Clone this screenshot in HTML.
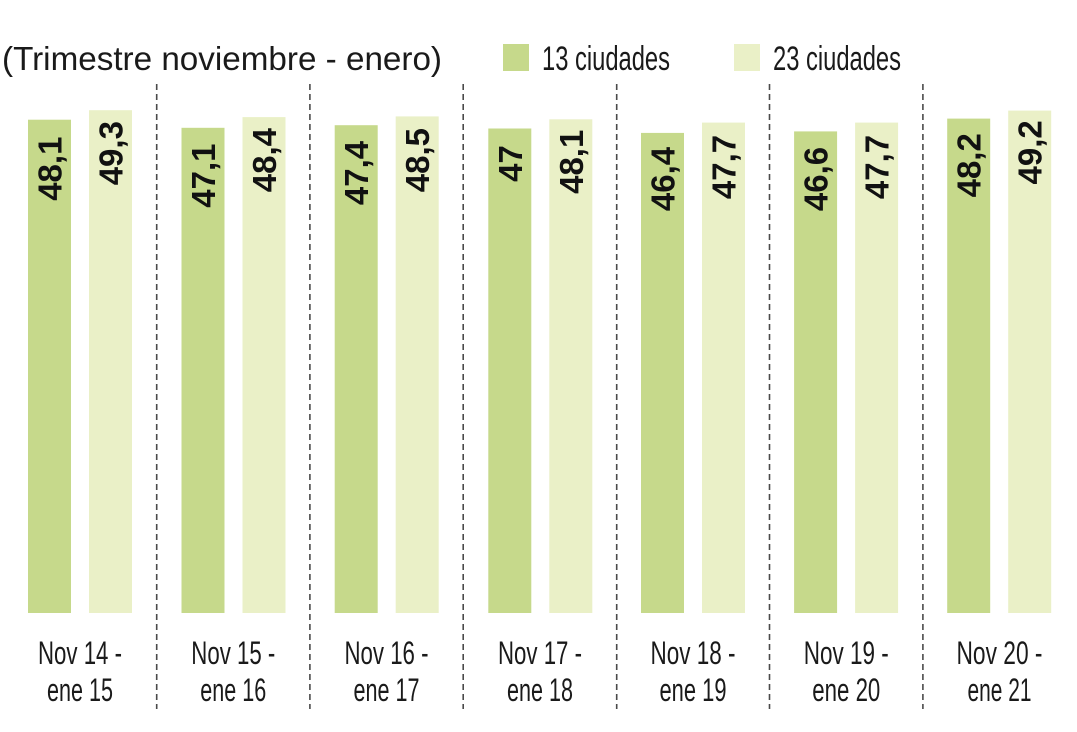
<!DOCTYPE html>
<html>
<head>
<meta charset="utf-8">
<style>
  html, body { margin:0; padding:0; background:#ffffff; }
  svg { display:block; }
  .val { font-family:"Liberation Sans", sans-serif; font-weight:bold; font-size:33px; fill:#111; }
  .ax { font-family:"Liberation Sans", sans-serif; font-size:32px; fill:#1a1a1a; }
  .lg { font-family:"Liberation Sans", sans-serif; font-size:34px; fill:#1a1a1a; }
  .tt { font-family:"Liberation Sans", sans-serif; font-size:33px; fill:#1a1a1a; }
</style>
</head>
<body>
<svg width="1077" height="732" viewBox="0 0 1077 732" xmlns="http://www.w3.org/2000/svg">
  <rect width="1077" height="732" fill="#ffffff"/>

  <!-- Title -->
  <text class="tt" x="2" y="70" textLength="440" lengthAdjust="spacingAndGlyphs">(Trimestre noviembre - enero)</text>

  <!-- Legend -->
  <rect x="503" y="44" width="26" height="27" fill="#c6d98b"/>
  <text class="lg" x="542" y="70" textLength="128" lengthAdjust="spacingAndGlyphs">13 ciudades</text>
  <rect x="734" y="44" width="26" height="27" fill="#eaf0c7"/>
  <text class="lg" x="773" y="70" textLength="128" lengthAdjust="spacingAndGlyphs">23 ciudades</text>

  <!-- Dashed separators -->
  <g stroke="#4a4a4a" stroke-width="1.6" stroke-dasharray="6 4">
    <line x1="156.7" y1="84" x2="156.7" y2="709"/>
    <line x1="309.9" y1="84" x2="309.9" y2="709"/>
    <line x1="463.2" y1="84" x2="463.2" y2="709"/>
    <line x1="616.7" y1="84" x2="616.7" y2="709"/>
    <line x1="769.5" y1="84" x2="769.5" y2="709"/>
    <line x1="922.9" y1="84" x2="922.9" y2="709"/>
  </g>

  <!-- Bars: 13 ciudades (dark) -->
  <g fill="#c6d98b">
    <rect x="28" y="119.7" width="43" height="493.3"/>
    <rect x="181.5" y="127.8" width="43" height="485.2"/>
    <rect x="334.7" y="125.2" width="43" height="487.8"/>
    <rect x="488.3" y="128.5" width="43" height="484.5"/>
    <rect x="641" y="132.9" width="43" height="480.1"/>
    <rect x="794.1" y="131.4" width="43" height="481.6"/>
    <rect x="947.2" y="118.6" width="43" height="494.4"/>
  </g>
  <!-- Bars: 23 ciudades (light) -->
  <g fill="#eaf0c7">
    <rect x="89" y="110.2" width="43" height="502.8"/>
    <rect x="242.5" y="117.1" width="43" height="495.9"/>
    <rect x="395.7" y="116.4" width="43" height="496.6"/>
    <rect x="549.3" y="119.3" width="43" height="493.7"/>
    <rect x="702" y="122.6" width="43" height="490.4"/>
    <rect x="855.1" y="122.6" width="43" height="490.4"/>
    <rect x="1008.2" y="110.6" width="43" height="502.4"/>
  </g>

  <!-- Value labels (rotated) -->
  <g class="val" text-anchor="middle">
    <text transform="translate(61.5,168.7) rotate(-90)">48,1</text>
    <text transform="translate(122.5,153.2) rotate(-90)">49,3</text>
    <text transform="translate(215,175.6) rotate(-90)">47,1</text>
    <text transform="translate(276,160.1) rotate(-90)">48,4</text>
    <text transform="translate(368.2,173) rotate(-90)">47,4</text>
    <text transform="translate(429.2,160.1) rotate(-90)">48,5</text>
    <text transform="translate(521.8,163.5) rotate(-90)">47</text>
    <text transform="translate(582.8,161.8) rotate(-90)">48,1</text>
    <text transform="translate(674.5,179) rotate(-90)">46,4</text>
    <text transform="translate(735.5,167) rotate(-90)">47,7</text>
    <text transform="translate(827.6,179) rotate(-90)">46,6</text>
    <text transform="translate(888.6,167) rotate(-90)">47,7</text>
    <text transform="translate(980.7,165.3) rotate(-90)">48,2</text>
    <text transform="translate(1041.7,152.4) rotate(-90)">49,2</text>
  </g>

  <!-- Category labels -->
  <g class="ax" text-anchor="middle">
    <text x="80" y="664" textLength="84" lengthAdjust="spacingAndGlyphs">Nov 14 -</text>
    <text x="80" y="701" textLength="66" lengthAdjust="spacingAndGlyphs">ene 15</text>
    <text x="233.3" y="664" textLength="84" lengthAdjust="spacingAndGlyphs">Nov 15 -</text>
    <text x="233.3" y="701" textLength="66" lengthAdjust="spacingAndGlyphs">ene 16</text>
    <text x="386.5" y="664" textLength="84" lengthAdjust="spacingAndGlyphs">Nov 16 -</text>
    <text x="386.5" y="701" textLength="66" lengthAdjust="spacingAndGlyphs">ene 17</text>
    <text x="540" y="664" textLength="84" lengthAdjust="spacingAndGlyphs">Nov 17 -</text>
    <text x="540" y="701" textLength="66" lengthAdjust="spacingAndGlyphs">ene 18</text>
    <text x="693" y="664" textLength="85" lengthAdjust="spacingAndGlyphs">Nov 18 -</text>
    <text x="693" y="701" textLength="67" lengthAdjust="spacingAndGlyphs">ene 19</text>
    <text x="846.3" y="664" textLength="85" lengthAdjust="spacingAndGlyphs">Nov 19 -</text>
    <text x="846.3" y="701" textLength="68" lengthAdjust="spacingAndGlyphs">ene 20</text>
    <text x="999.5" y="664" textLength="86" lengthAdjust="spacingAndGlyphs">Nov 20 -</text>
    <text x="999.5" y="701" textLength="64" lengthAdjust="spacingAndGlyphs">ene 21</text>
  </g>
</svg>
</body>
</html>
